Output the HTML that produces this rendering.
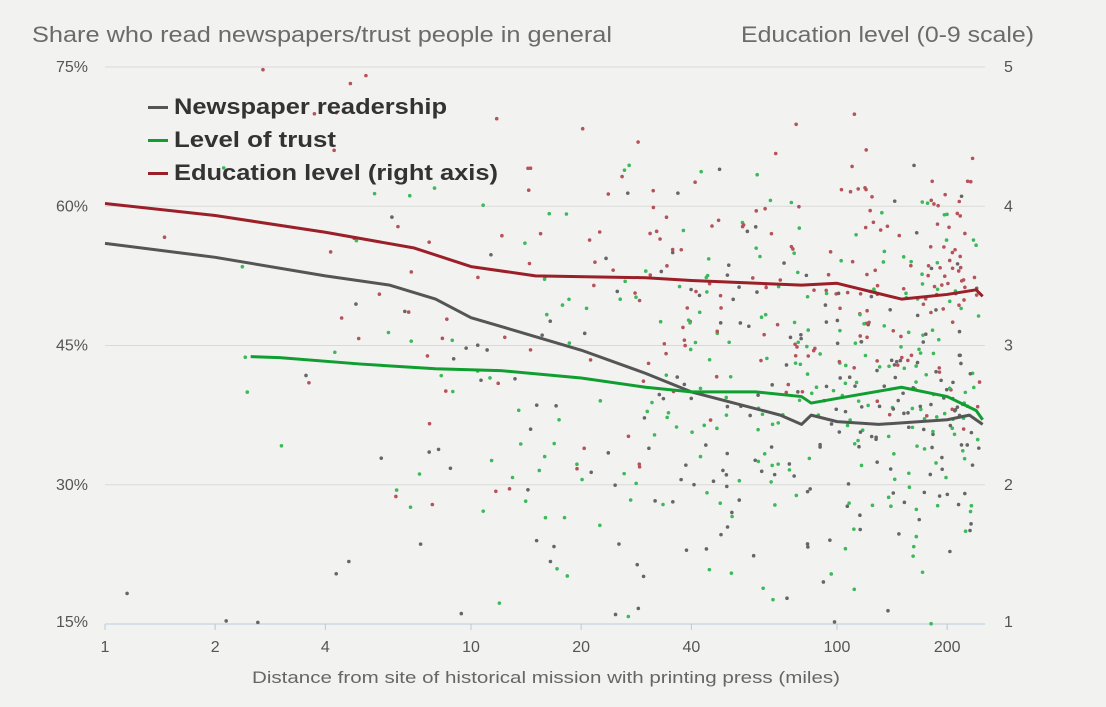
<!DOCTYPE html>
<html><head><meta charset="utf-8"><style>
body{margin:0;background:#f2f2f1;}
svg{display:block;font-family:"Liberation Sans","DejaVu Sans",sans-serif;}
</style></head><body>
<svg id="s" width="1106" height="707" viewBox="0 0 1106 707">
<rect width="1106" height="707" fill="#f2f2f1"/>
<text x="32" y="42" font-size="22" fill="#6b6b6b" textLength="580" lengthAdjust="spacingAndGlyphs">Share who read newspapers/trust people in general</text>
<text x="741" y="42" font-size="22" fill="#6b6b6b" textLength="293" lengthAdjust="spacingAndGlyphs">Education level (0-9 scale)</text>
<g id="grid" stroke="#d9d9d9" stroke-width="1"></g>
<g id="lab" font-size="16" fill="#555"></g>
<g id="dots"></g>
<g id="lines" fill="none" stroke-width="3" stroke-linejoin="round"></g>
<g font-size="22" font-weight="bold" fill="#333">
<rect x="148" y="106" width="20" height="3" fill="#555"/><text x="174" y="114" textLength="273" lengthAdjust="spacingAndGlyphs">Newspaper readership</text>
<rect x="148" y="139" width="20" height="3" fill="#0f9e2f"/><text x="174" y="147" textLength="162" lengthAdjust="spacingAndGlyphs">Level of trust</text>
<rect x="148" y="172" width="20" height="3" fill="#9b1f28"/><text x="174" y="180" textLength="324" lengthAdjust="spacingAndGlyphs">Education level (right axis)</text>
</g>
<text x="252" y="683" font-size="17" fill="#666" textLength="588" lengthAdjust="spacingAndGlyphs">Distance from site of historical mission with printing press (miles)</text>
</svg>
<script>
var NS="http://www.w3.org/2000/svg";
function el(p,t,a,txt){var e=document.createElementNS(NS,t);for(var k in a)e.setAttribute(k,a[k]);if(txt!=null)e.textContent=txt;p.appendChild(e);return e;}
function X(d){return 105+366*Math.log10(d);}
function Y(p){return 67+(75-p)*557/60;}
var g=document.getElementById('grid'),L=document.getElementById('lab');
[75,60,45,30].forEach(function(p,i){el(g,'line',{x1:105,x2:985,y1:Y(p),y2:Y(p)});
el(L,'text',{x:88,y:Y(p)+5,'text-anchor':'end'},p+'%');el(L,'text',{x:1004,y:Y(p)+5},String(5-i));});
el(L,'text',{x:88,y:627,'text-anchor':'end'},'15%');el(L,'text',{x:1004,y:627},'1');
el(g,'line',{x1:105,x2:985,y1:624,y2:624,stroke:'#b9c9dc'});
[1,2,4,10,20,40,100,200].forEach(function(d){el(g,'line',{x1:X(d),x2:X(d),y1:624,y2:630,stroke:'#b9c9dc'});el(L,'text',{x:X(d),y:652,'text-anchor':'middle'},String(d));});
var s=12345;function r(){s=(s*16807)%2147483647;return s/2147483647;}
var D=document.getElementById('dots');
var cols=['#666','#3cb95a','#b5525a'];var cen=[38,40,52];var spr=[10,10,7];
for(var i=0;i<680;i++){var u=Math.pow(r(),0.33);var d=Math.pow(10,u*2.39);var c=Math.floor(r()*3);
var far=Math.min(1,0.6+u*0.6);var p=cen[c]+(r()+r()+r()-1.5)*spr[c]*2*far;if(d<30)p=cen[c]+(r()-0.5)*50;
if(p>75||p<15)continue;el(D,'circle',{cx:X(d),cy:Y(p),r:1.8,fill:cols[c]});}
var Ln=document.getElementById('lines');
function line(pts,col){el(Ln,'polyline',{points:pts.map(function(q){return X(q[0])+','+Y(q[1]);}).join(' '),stroke:col});}
line([[1,56],[2,54.5],[4,52.5],[6,51.5],[8,50],[10,48],[20,44.5],[30,42],[40,40],[50,39],[70,37.5],[80,36.5],[85,37.5],[100,36.8],[130,36.5],[200,37],[230,37.5],[250,36.5]],'#555');
line([[2.5,43.8],[3,43.7],[5,43],[8,42.5],[12,42.3],[20,41.5],[30,40.5],[40,40],[60,40],[80,39.5],[85,38.8],[100,39.3],[150,40.5],[200,39.5],[240,38],[250,37]],'#0f9e2f');
line([[1,60.3],[2,59],[4,57.2],[7,55.5],[10,53.5],[15,52.5],[30,52.3],[40,52],[80,51.5],[100,51.7],[150,50],[200,50.5],[240,51],[250,50.3]],'#9b1f28');
</script>
</body></html>
